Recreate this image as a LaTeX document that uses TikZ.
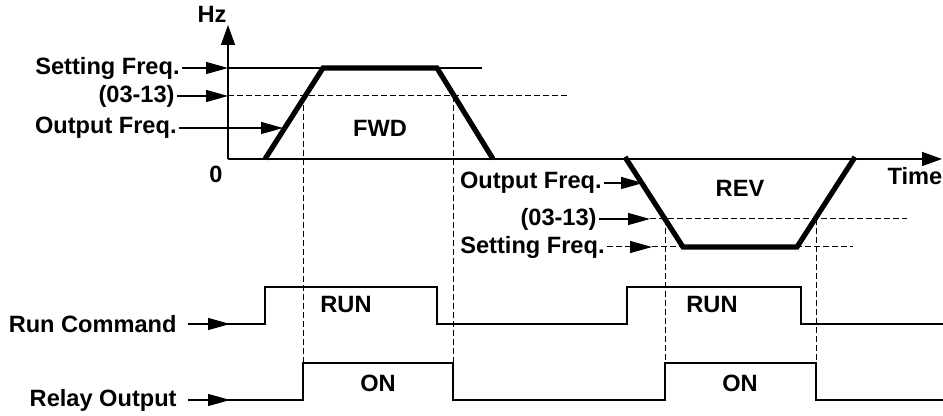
\documentclass[tikz,border=0pt]{standalone}
\usepackage{fontspec}
\setmainfont{Liberation Sans}
\usetikzlibrary{arrows.meta}

\begin{document}
\begin{tikzpicture}[x=0.5pt,y=-0.5pt,
  font=\fontsize{11.8pt}{14pt}\selectfont\bfseries,
  lbl/.style={anchor=east,inner xsep=1pt,inner ysep=0pt},
  sigl/.style={lbl,inner xsep=5.5pt},
  tag/.style={anchor=base,inner sep=0pt},
  sig/.style={line width=0.6pt},
  ramp/.style={line width=2.6pt},
  guide/.style={line width=0.5pt,dash pattern=on 3pt off 1.5pt},
  ptr/.style={-{Triangle[length=11pt,width=6pt]},line width=0.6pt},
  axis/.style={-{Triangle[length=10pt,width=7pt]},line width=0.7pt}]
\useasboundingbox (0,0) rectangle (943,416);

% axes
\coordinate (O) at (228,159);
\coordinate (ytip) at (228,25);
\coordinate (xtip) at (942,159);
\draw[axis] (O) -- (ytip);
\draw[axis] (O) -- (xtip);
\node[tag] (hz) at (212,23) {Hz};
\node[tag] (zero) at (216,183) {0};
\node[tag] (time) at (915,185) {Time};

% guides down to the relay edges
\foreach \x/\y in {303/96,453/96,665/219,816/219}
  \draw[guide] (\x,\y) -- (\x,363);

% forward run
\coordinate (fset) at (228,68);
\coordinate (fpar) at (228,96);
\coordinate (fout) at (283,128);
\draw[sig] (fset) -- (482,68);
\draw[guide] (fpar) -- (568,96);
\draw[ramp] (265,159) -- (323,68) -- (437,68) -- (493,159);
\node[lbl] (fsetL) at (182,68) {Setting Freq.};
\node[lbl] (fparL) at (177,96) {(03-13)};
\node[lbl] (foutL) at (179,128) {Output Freq.};
\draw[ptr] (fsetL.east) -- (fset);
\draw[ptr] (fparL.east) -- (fpar);
\draw[ptr] (foutL.east) -- (fout);
\node[tag] (fwd) at (380,137) {FWD};

% reverse run
\coordinate (rout) at (643,183);
\coordinate (rpar) at (650,219);
\coordinate (rset) at (652,247);
\draw[guide] (rpar) -- (907,219);
\draw[guide] (rset) -- (853,247);
\draw[ramp] (625,157) -- (683,247) -- (797,247) -- (855,157);
\node[lbl] (routL) at (604,183) {Output Freq.};
\node[lbl] (rparL) at (599,219) {(03-13)};
\node[lbl] (rsetL) at (607,247) {Setting Freq.};
\draw[ptr] (routL.east) -- (rout);
\draw[ptr] (rparL.east) -- (rpar);
\draw[ptr,guide] (rsetL.east) -- (rset);
\node[tag] (rev) at (740,197) {REV};

% run command
\node[sigl] (runL) at (188,324) {Run Command};
\coordinate (runA) at (230,324);
\draw[sig] (runL.east) -- (265,324) |- (437,287) |- (627,324) |- (801,287) |- (943,324);
\draw[ptr] (runL.east) -- (runA);
\node[tag] (run1) at (346,313) {RUN};
\node[tag] (run2) at (712,313) {RUN};

% relay output
\node[sigl] (relL) at (188,400) {Relay Output};
\coordinate (relA) at (230,400);
\draw[sig] (relL.east) -- (303,400) |- (453,363) |- (665,400) |- (816,363) |- (943,400);
\draw[ptr] (relL.east) -- (relA);
\node[tag] (on1) at (378,392) {ON};
\node[tag] (on2) at (740,392) {ON};
\end{tikzpicture}
\end{document}
